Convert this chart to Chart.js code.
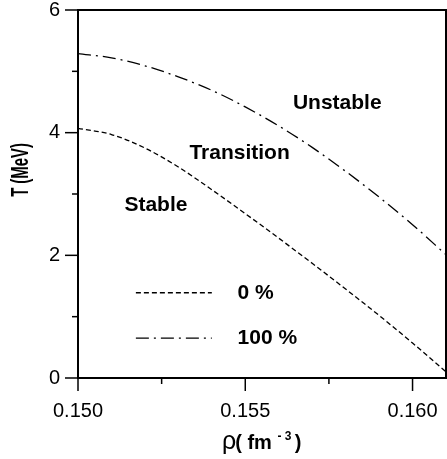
<!DOCTYPE html>
<html>
<head>
<meta charset="utf-8">
<script src="https://cdn.jsdelivr.net/npm/chart.js@4.4.1/dist/chart.umd.min.js"></script>
<style>
    html, body { margin: 0; padding: 0; background: #fff; }
    #wrap { width: 447px; height: 459px; }
</style>
</head>
<body>
<div id="wrap"><canvas id="chart"></canvas></div>
<script>
// density grid (fm^-3) and temperature limits (MeV)
const rho = [0.150, 0.151, 0.152, 0.153, 0.154, 0.155, 0.156, 0.157, 0.158, 0.159, 0.160, 0.161];
const tZero = [4.07, 3.97, 3.75, 3.44, 3.07, 2.68, 2.28, 1.87, 1.45, 1.02, 0.57, 0.10];
const tFull = [5.29, 5.22, 5.09, 4.91, 4.69, 4.42, 4.11, 3.76, 3.37, 2.95, 2.50, 2.01];

const seriesNames = ['0 %', '100 %'];
const xTicks = [0.150, 0.155, 0.160];
const xMinor = [0.1525, 0.1575];
const yTicks = [0, 2, 4, 6];
const yMinor = [1, 3, 5];

// region labels, placed in data coordinates
const regions = [
    { text: 'Stable', x: 0.15233, y: 2.82 },
    { text: 'Transition', x: 0.15483, y: 3.67 },
    { text: 'Unstable', x: 0.15775, y: 4.48 }
];

const DASH_ZERO = [5, 3];
const DASH_FULL = [13, 5, 2, 5];
const FONT = '"Liberation Sans", Arial, Helvetica, sans-serif';

Chart.defaults.font.family = FONT;
Chart.defaults.color = '#000';

function toPoints(ys) {
    return rho.map((r, i) => ({ x: r, y: ys[i] }));
}

// keep the plot box where the original has it
function noOverflow(scale) {
    scale.paddingTop = 0;
    scale.paddingBottom = 0;
    scale.paddingLeft = 0;
    scale.paddingRight = 0;
}

const decorPlugin = {
    id: 'decor',
    afterDraw(chart) {
        const { ctx, chartArea: a, scales: { x, y } } = chart;
        ctx.save();
        ctx.strokeStyle = '#000';
        ctx.fillStyle = '#000';

        // top and right frame
        ctx.lineWidth = 2;
        ctx.beginPath();
        ctx.moveTo(a.left, a.top);
        ctx.lineTo(a.right, a.top);
        ctx.lineTo(a.right, a.bottom);
        ctx.stroke();

        // outward tick marks
        ctx.lineWidth = 1.5;
        const tick = (x1, y1, x2, y2) => {
            ctx.beginPath();
            ctx.moveTo(x1, y1);
            ctx.lineTo(x2, y2);
            ctx.stroke();
        };
        xTicks.forEach(v => { const p = x.getPixelForValue(v); tick(p, a.bottom, p, a.bottom + 13); });
        xMinor.forEach(v => { const p = x.getPixelForValue(v); tick(p, a.bottom, p, a.bottom + 6); });
        yTicks.forEach(v => { const p = y.getPixelForValue(v); tick(a.left - 13, p, a.left, p); });
        yMinor.forEach(v => { const p = y.getPixelForValue(v); tick(a.left - 6, p, a.left, p); });

        // region labels
        ctx.font = 'bold 21px ' + FONT;
        ctx.textAlign = 'center';
        ctx.textBaseline = 'middle';
        regions.forEach(r => {
            ctx.fillText(r.text, x.getPixelForValue(r.x), y.getPixelForValue(r.y));
        });

        // legend
        const legendRows = [
            { y: 1.39, dash: DASH_ZERO, label: seriesNames[0] },
            { y: 0.65, dash: DASH_FULL, label: seriesNames[1] }
        ];
        legendRows.forEach(row => {
            const py = y.getPixelForValue(row.y);
            ctx.save();
            ctx.lineWidth = 1.3;
            ctx.setLineDash(row.dash);
            tick(x.getPixelForValue(0.15173), py, x.getPixelForValue(0.15400), py);
            ctx.restore();
            ctx.textAlign = 'left';
            ctx.fillText(row.label, x.getPixelForValue(0.15477), py);
        });

        // y axis title, drawn narrow like the original
        ctx.save();
        ctx.translate(21, 170);
        ctx.rotate(-Math.PI / 2);
        ctx.scale(0.62, 1);
        ctx.font = 'bold 24px ' + FONT;
        ctx.textAlign = 'center';
        ctx.fillText('T (MeV)', 0, 0);
        ctx.restore();

        // x axis title: rho( fm^-3 )
        ctx.textAlign = 'left';
        ctx.textBaseline = 'alphabetic';
        const base = 449;
        let cx = 222;
        ctx.font = '25px ' + FONT;
        ctx.fillText('ρ', cx, base);
        cx += ctx.measureText('ρ').width - 1;
        ctx.font = 'bold 20px ' + FONT;
        ctx.fillText('( fm', cx, base);
        cx += ctx.measureText('( fm ').width;
        ctx.font = 'bold 12px ' + FONT;
        ctx.fillText('- 3', cx, base - 9);
        cx += ctx.measureText('- 3 ').width;
        ctx.font = 'bold 20px ' + FONT;
        ctx.fillText(')', cx, base);

        ctx.restore();
    }
};

new Chart(document.getElementById('chart'), {
    type: 'line',
    data: {
        datasets: [
            {
                label: seriesNames[0],
                data: toPoints(tZero),
                borderColor: '#000',
                borderWidth: 1.3,
                borderDash: DASH_ZERO,
                pointRadius: 0,
                cubicInterpolationMode: 'monotone',
                fill: false
            },
            {
                label: seriesNames[1],
                data: toPoints(tFull),
                borderColor: '#000',
                borderWidth: 1.3,
                borderDash: DASH_FULL,
                pointRadius: 0,
                cubicInterpolationMode: 'monotone',
                fill: false
            }
        ]
    },
    options: {
        responsive: true,
        maintainAspectRatio: false,
        animation: false,
        layout: {
            padding: { top: 10, right: 1, left: 0, bottom: 0 }
        },
        plugins: {
            legend: { display: false },
            tooltip: { enabled: false }
        },
        scales: {
            x: {
                type: 'linear',
                min: 0.150,
                max: 0.161,
                grid: { display: true, drawOnChartArea: false, drawTicks: false },
                border: { color: '#000', width: 2 },
                afterBuildTicks: scale => { scale.ticks = xTicks.map(v => ({ value: v })); },
                afterFit: scale => { scale.height = 81; noOverflow(scale); },
                ticks: {
                    padding: 21,
                    maxRotation: 0,
                    font: { size: 20 },
                    callback: v => v.toFixed(3)
                }
            },
            y: {
                min: 0,
                max: 6,
                grid: { display: true, drawOnChartArea: false, drawTicks: false },
                border: { color: '#000', width: 2 },
                afterBuildTicks: scale => { scale.ticks = yTicks.map(v => ({ value: v })); },
                afterFit: scale => { scale.width = 78; noOverflow(scale); },
                ticks: {
                    padding: 18,
                    font: { size: 20 }
                }
            }
        }
    },
    plugins: [decorPlugin]
});
</script>
</body>
</html>
